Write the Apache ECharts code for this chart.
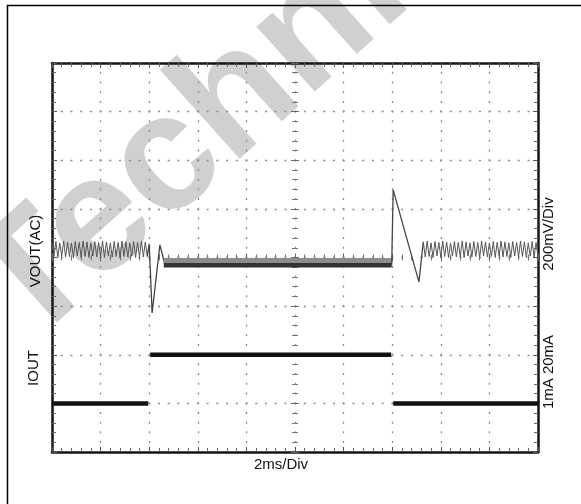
<!DOCTYPE html>
<html>
<head>
<meta charset="utf-8">
<script src="https://cdn.jsdelivr.net/npm/echarts@6/dist/echarts.min.js"></script>
<style>
html, body {margin: 0; padding: 0; background: #fff;}
#chart {width: 581px; height: 504px;}
</style>
</head>
<body>
<div id="chart"></div>
<script>
// scope screen in divisions: 10 across (2ms/div), 8 up (-4..4)
var rippleLeft = [
	[0.00,0.31],[0.04,0.02],[0.08,0.33],[0.12,0.00],[0.16,0.30],[0.20,0.03],[0.24,0.34],[0.28,0.01],[0.32,0.32],[0.36,0.02],
	[0.40,0.30],[0.44,0.00],[0.48,0.33],[0.52,0.03],[0.56,0.31],[0.60,0.01],[0.64,0.34],[0.68,0.02],[0.72,0.32],[0.76,0.00],
	[0.80,0.30],[0.84,0.03],[0.88,0.33],[0.92,0.01],[0.96,0.31],[1.00,0.02],[1.04,0.34],[1.08,0.00],[1.12,0.32],[1.16,0.03],
	[1.20,0.30],[1.24,0.01],[1.28,0.33],[1.32,0.02],[1.36,0.31],[1.40,0.00],[1.44,0.34],[1.48,0.02],[1.52,0.32],[1.56,0.01],
	[1.60,0.30],[1.64,0.03],[1.68,0.33],[1.72,0.00],[1.76,0.31],[1.80,0.02],[1.84,0.34],[1.88,0.01],[1.92,0.32],[1.96,0.02]
];
var stepDown = [[1.96,0.02],[2.00,0.28],[2.06,-1.14],[2.22,0.26],[2.33,-0.17]];
var bandHalo = [[2.30,-0.07],[6.99,-0.07]];
var bandCore = [[2.30,-0.16],[6.99,-0.16]];
var stepUp = [[6.99,-0.16],[7.02,1.39],[7.55,-0.50],[7.61,0.05],[7.64,0.32]];
var rippleRight = [
	[7.64,0.32],[7.68,0.01],[7.72,0.34],[7.76,0.02],[7.80,0.30],[7.84,0.00],[7.88,0.33],[7.92,0.03],[7.96,0.31],[8.00,0.01],
	[8.04,0.34],[8.08,0.02],[8.12,0.32],[8.16,0.00],[8.20,0.30],[8.24,0.03],[8.28,0.33],[8.32,0.01],[8.36,0.31],[8.40,0.02],
	[8.44,0.34],[8.48,0.00],[8.52,0.32],[8.56,0.03],[8.60,0.30],[8.64,0.01],[8.68,0.33],[8.72,0.02],[8.76,0.31],[8.80,0.00],
	[8.84,0.34],[8.88,0.03],[8.92,0.32],[8.96,0.01],[9.00,0.30],[9.04,0.02],[9.08,0.33],[9.12,0.00],[9.16,0.31],[9.20,0.03],
	[9.24,0.34],[9.28,0.01],[9.32,0.32],[9.36,0.02],[9.40,0.30],[9.44,0.00],[9.48,0.33],[9.52,0.03],[9.56,0.31],[9.60,0.01],
	[9.64,0.34],[9.68,0.02],[9.72,0.32],[9.76,0.00],[9.80,0.30],[9.84,0.03],[9.88,0.33],[9.92,0.01],[9.96,0.31],[10.00,0.02]
];
var ioutLow1 = [[0,-3],[1.98,-3]];
var ioutHigh = [[2.02,-2],[6.98,-2]];
var ioutLow2 = [[7.02,-3],[10,-3]];

var leftLabels = ['VOUT(AC)', 'IOUT'];
var rightLabels = ['200mV/Div', '1mA 20mA'];
var timeLabel = '2ms/Div';

var font = 'Liberation Sans, Arial, sans-serif';
var box = {left: 52, top: 63, width: 486, height: 389};

function borderAxis(pos, min, max, grid) {
	return {
		type: 'value', gridIndex: grid, position: pos, min: min, max: max, interval: 1,
		axisLine: {show: true, onZero: false, lineStyle: {color: '#151515', width: 2.5}},
		axisTick: {show: true, inside: true, length: 5, lineStyle: {color: '#555'}},
		minorTick: {show: true, splitNumber: 5, length: 4, lineStyle: {color: '#666'}},
		axisLabel: {show: false},
		splitLine: {show: false}
	};
}
function centerAxis(pos, min, max, grid, inside) {
	return {
		type: 'value', gridIndex: grid, position: pos, min: min, max: max, interval: 1,
		axisLine: {show: false, onZero: true},
		axisTick: {show: true, inside: inside, length: 4, lineStyle: {color: '#666'}},
		minorTick: {show: true, splitNumber: 5, length: 3, lineStyle: {color: '#777'}},
		axisLabel: {show: false},
		splitLine: {show: false}
	};
}

var xBottom = borderAxis('bottom', 0, 10, 0);
xBottom.splitLine = {show: true, lineStyle: {color: '#8a8a8a', width: 1.3, type: [2, 7.72], dashOffset: 1}};
var yLeft = borderAxis('left', -4, 4, 0);
yLeft.splitLine = {show: true, lineStyle: {color: '#8a8a8a', width: 1.3, type: [2, 7.725], dashOffset: 1}};

function line(data, color, width, z) {
	return {
		type: 'line', xAxisIndex: 0, yAxisIndex: 0, data: data, symbol: 'none', z: z || 3,
		lineStyle: {color: color, width: width}, animation: false, silent: true
	};
}

var myChart = echarts.init(document.getElementById('chart'));
var option = {
	animation: false,
	grid: [
		Object.assign({}, box),
		Object.assign({}, box),
		Object.assign({}, box)
	],
	xAxis: [
		xBottom,
		borderAxis('top', 0, 10, 0),
		centerAxis('bottom', -5, 5, 1, true),
		centerAxis('bottom', -5, 5, 2, false)
	],
	yAxis: [
		yLeft,
		borderAxis('right', -4, 4, 0),
		centerAxis('left', -4, 4, 1, true),
		centerAxis('left', -4, 4, 2, false)
	],
	series: [
		line(rippleLeft, '#555', 1),
		line(stepDown, '#444', 1.3),
		line(bandHalo, '#8c8c8c', 6),
		line(bandCore, '#333', 4.5),
		line(stepUp, '#444', 1.3),
		line(rippleRight, '#555', 1),
		line(ioutLow1, '#111', 4.5),
		line(ioutHigh, '#111', 4.5),
		line(ioutLow2, '#111', 4.5)
	],
	graphic: [
		{type: 'text', x: -2, y: 314, rotation: 0.73, z: -10, silent: true,
			style: {text: 'Technical', font: 'bold 165px ' + font, fill: 'rgba(150,150,150,0.45)', align: 'left', verticalAlign: 'middle'}},
		{type: 'polyline', z: 50, silent: true,
			shape: {points: [[7.5, 504], [7.5, 5.5], [581, 5.5]]}, style: {stroke: '#000', lineWidth: 1.5, fill: null}},
		{type: 'text', x: 36, y: 251, rotation: Math.PI / 2, z: 50,
			style: {text: leftLabels[0], font: '15px ' + font, fill: '#111', align: 'center', verticalAlign: 'middle'}},
		{type: 'text', x: 34, y: 368, rotation: Math.PI / 2, z: 50,
			style: {text: leftLabels[1], font: '15px ' + font, fill: '#111', align: 'center', verticalAlign: 'middle'}},
		{type: 'text', x: 549, y: 234, rotation: Math.PI / 2, z: 50,
			style: {text: rightLabels[0], font: '15px ' + font, fill: '#111', align: 'center', verticalAlign: 'middle'}},
		{type: 'text', x: 549, y: 372, rotation: Math.PI / 2, z: 50,
			style: {text: rightLabels[1], font: '15px ' + font, fill: '#111', align: 'center', verticalAlign: 'middle'}},
		{type: 'text', x: 281, y: 465, z: 50,
			style: {text: timeLabel, font: '15px ' + font, fill: '#111', align: 'center', verticalAlign: 'middle'}}
	]
};
myChart.setOption(option);
</script>
</body>
</html>
